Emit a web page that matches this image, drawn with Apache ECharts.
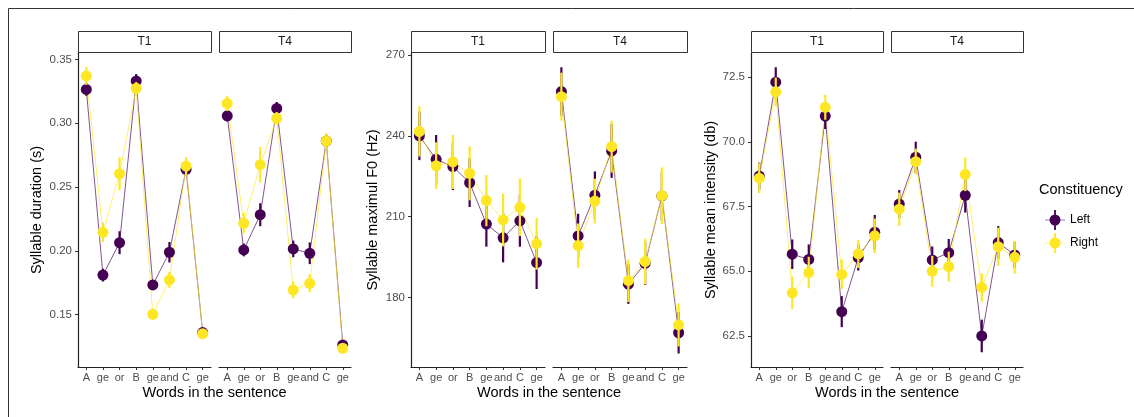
<!DOCTYPE html>
<html>
<head>
<meta charset="utf-8">
<script src="https://cdn.jsdelivr.net/npm/echarts@6/dist/echarts.min.js"></script>
<style>
html,body{margin:0;padding:0;background:#fff}
#main{width:1134px;height:417px}
</style>
</head>
<body>
<div id="main"></div>
<script>
const words = ['A', 'ge', 'or', 'B', 'ge', 'and', 'C', 'ge'];
const facets = ['T1', 'T4'];
const groups = ['Left', 'Right'];

// syllable duration (s)
const durLeftT1 = [0.3265, 0.181, 0.2064, 0.333, 0.1733, 0.1989, 0.2639, 0.136];
const durLeftT1Err = [0.005, 0.005, 0.009, 0.0055, 0.004, 0.008, 0.004, 0.003];
const durRightT1 = [0.337, 0.2145, 0.2604, 0.3273, 0.1503, 0.1772, 0.2664, 0.1351];
const durRightT1Err = [0.007, 0.0076, 0.013, 0.005, 0.0045, 0.0065, 0.007, 0.003];
const durLeftT4 = [0.3058, 0.2007, 0.2283, 0.3116, 0.2015, 0.1981, 0.286, 0.1263];
const durLeftT4Err = [0.0045, 0.005, 0.009, 0.005, 0.0065, 0.0085, 0.005, 0.003];
const durRightT4 = [0.3155, 0.2216, 0.2675, 0.3038, 0.1693, 0.1746, 0.286, 0.1237];
const durRightT4Err = [0.006, 0.008, 0.014, 0.005, 0.0065, 0.007, 0.006, 0.003];
const durTicks = [0.15, 0.20, 0.25, 0.30, 0.35];

// syllable maximum F0 (Hz)
const f0LeftT1 = [240.0, 231.3, 228.6, 222.6, 207.3, 202.2, 208.5, 193.0];
const f0LeftT1Err = [9, 9, 8.7, 9, 8.4, 9.1, 9.6, 9.8];
const f0RightT1 = [241.6, 228.9, 230.3, 226.1, 216.0, 208.8, 213.5, 200.0];
const f0RightT1Err = [9.3, 8.7, 10, 10, 9.5, 9.8, 10.7, 9.6];
const f0LeftT4 = [256.4, 202.9, 218.0, 234.4, 185.0, 192.7, 217.7, 167.0];
const f0LeftT4Err = [9, 8.2, 8.8, 10, 7.3, 8, 9, 7.7];
const f0RightT4 = [254.5, 199.3, 215.8, 236.0, 186.3, 193.4, 217.8, 169.9];
const f0RightT4Err = [8.9, 8.2, 8.3, 9.6, 7.9, 8.5, 10.5, 8];
const f0Ticks = [180, 210, 240, 270];

// syllable mean intensity (db)
const intLeftT1 = [68.68, 72.31, 65.66, 65.46, 71.0, 63.44, 65.53, 66.51];
const intLeftT1Err = [0.52, 0.58, 0.57, 0.58, 0.5, 0.6, 0.5, 0.67];
const intRightT1 = [68.6, 71.94, 64.17, 64.95, 71.34, 64.88, 65.67, 66.37];
const intRightT1Err = [0.58, 0.55, 0.63, 0.61, 0.48, 0.57, 0.54, 0.67];
const intLeftT4 = [67.6, 69.41, 65.44, 65.72, 67.94, 62.5, 66.11, 65.63];
const intLeftT4Err = [0.54, 0.6, 0.52, 0.53, 0.67, 0.63, 0.64, 0.5];
const intRightT4 = [67.4, 69.24, 65.0, 65.18, 68.75, 64.38, 65.95, 65.54];
const intRightT4Err = [0.64, 0.5, 0.6, 0.58, 0.65, 0.55, 0.74, 0.63];
const intTicks = [62.5, 65.0, 67.5, 70.0, 72.5];

const colors = { Left: '#440154', Right: '#FDE725' };
const font = 'Liberation Sans, Arial, sans-serif';

const panels = [
  { title: 'Syllable duration (s)', ticks: durTicks, min: 0.109, max: 0.355, digits: 2,
    lefts: [78, 219], widths: [133, 132], gap: 34,
    data: { Left: [[durLeftT1, durLeftT1Err], [durLeftT4, durLeftT4Err]],
            Right: [[durRightT1, durRightT1Err], [durRightT4, durRightT4Err]] } },
  { title: 'Syllable maximul F0 (Hz)', ticks: f0Ticks, min: 154.3, max: 270.7, digits: 0,
    lefts: [411, 553], widths: [134, 134], gap: 31,
    data: { Left: [[f0LeftT1, f0LeftT1Err], [f0LeftT4, f0LeftT4Err]],
            Right: [[f0RightT1, f0RightT1Err], [f0RightT4, f0RightT4Err]] } },
  { title: 'Syllable mean intensity (db)', ticks: intTicks, min: 61.3, max: 73.44, digits: 1,
    lefts: [751, 891], widths: [132, 132], gap: 33,
    data: { Left: [[intLeftT1, intLeftT1Err], [intLeftT4, intLeftT4Err]],
            Right: [[intRightT1, intRightT1Err], [intRightT4, intRightT4Err]] } }
];

const TOP = 53, BOTTOM = 50; // plot area from y=53 to y=367

function errRender(params, api) {
  const x = api.value(0);
  const a = api.coord([x, api.value(1)]);
  const b = api.coord([x, api.value(2)]);
  return {
    type: 'line',
    shape: { x1: a[0], y1: a[1], x2: b[0], y2: b[1] },
    style: { stroke: api.visual('color'), lineWidth: 2.2 }
  };
}

const grid = [], xAxis = [], yAxis = [], series = [], graphic = [];

// outer frame
graphic.push({ type: 'rect', shape: { x: 8.5, y: 8.5, width: 1300, height: 600 },
  style: { fill: 'none', stroke: '#333', lineWidth: 1 }, silent: true });

panels.forEach(function (p) {
  facets.forEach(function (f, fi) {
    const gi = grid.length;
    grid.push({ left: p.lefts[fi], top: TOP, width: p.widths[fi], bottom: BOTTOM });
    xAxis.push({
      type: 'category', gridIndex: gi, data: words, boundaryGap: true,
      axisLine: { show: true, lineStyle: { color: '#222', width: 1.2 } },
      axisTick: { show: true, alignWithLabel: true, length: 3, lineStyle: { color: '#333' } },
      axisLabel: { interval: 0, color: '#4d4d4d', fontSize: 11, margin: 5, fontFamily: font },
      splitLine: { show: false }
    });
    const showY = fi === 0;
    yAxis.push({
      type: 'value', gridIndex: gi, min: p.min, max: p.max,
      name: showY ? p.title : '', nameLocation: 'middle', nameGap: p.gap,
      nameTextStyle: { color: '#000', fontSize: 14.5, fontFamily: font },
      axisLine: { show: showY, lineStyle: { color: '#222', width: 1.2 } },
      axisTick: { show: showY, length: 3, customValues: p.ticks, lineStyle: { color: '#333' } },
      axisLabel: { show: showY, customValues: p.ticks, color: '#4d4d4d', fontSize: 11.5, margin: 6,
        fontFamily: font, formatter: function (v) { return Number(v).toFixed(p.digits); } },
      splitLine: { show: false }
    });

    // connecting lines first
    groups.forEach(function (g) {
      series.push({
        type: 'line', name: g, xAxisIndex: gi, yAxisIndex: gi,
        data: p.data[g][fi][0], showSymbol: false, symbol: 'none',
        lineStyle: { color: colors[g], width: 0.9, opacity: 0.75 },
        itemStyle: { color: colors[g] }, z: 2, animation: false
      });
    });
    // error bars + points, Left below Right
    groups.forEach(function (g, k) {
      const mean = p.data[g][fi][0], err = p.data[g][fi][1];
      series.push({
        type: 'custom', name: g, xAxisIndex: gi, yAxisIndex: gi,
        renderItem: errRender, clip: false,
        itemStyle: { color: colors[g] },
        data: mean.map(function (m, i) { return [i, m - err[i], m + err[i]]; }),
        z: 3 + k * 2, animation: false
      });
      series.push({
        type: 'scatter', name: g, xAxisIndex: gi, yAxisIndex: gi,
        data: mean, symbol: 'circle', symbolSize: 11,
        itemStyle: { color: colors[g], opacity: 1 },
        z: 4 + k * 2, animation: false
      });
    });

    // facet strip
    graphic.push({ type: 'rect', shape: { x: p.lefts[fi] + 0.5, y: 31.5, width: p.widths[fi], height: 21 },
      style: { fill: '#fff', stroke: '#333', lineWidth: 1 }, silent: true });
    graphic.push({ type: 'text', x: p.lefts[fi] + p.widths[fi] / 2, y: 42,
      style: { text: f, fill: '#1a1a1a', fontSize: 12, fontFamily: font, align: 'center', verticalAlign: 'middle' },
      silent: true });
  });
  // x axis title across both facets
  const l = p.lefts[0], r = p.lefts[1] + p.widths[1];
  graphic.push({ type: 'text', x: (l + r) / 2, y: 393,
    style: { text: 'Words in the sentence', fill: '#000', fontSize: 14.5, fontFamily: font,
      align: 'center', verticalAlign: 'middle' }, silent: true });
});

// legend title
graphic.push({ type: 'text', x: 1039, y: 190,
  style: { text: 'Constituency', fill: '#000', fontSize: 14.5, fontFamily: font, verticalAlign: 'middle' },
  silent: true });

const keyIcon = 'path://M0,9.7 L20,9.7 L20,10.3 L0,10.3 Z M9.1,0 L10.9,0 L10.9,20 L9.1,20 Z M15.5,10 A5.5,5.5 0 1 1 4.5,10 A5.5,5.5 0 1 1 15.5,10 Z';

const option = {
  animation: false,
  backgroundColor: '#fff',
  textStyle: { fontFamily: font },
  grid: grid,
  xAxis: xAxis,
  yAxis: yAxis,
  legend: {
    left: 1040, top: 205, orient: 'vertical',
    itemWidth: 20, itemHeight: 20, itemGap: 3,
    data: groups.map(function (g) { return { name: g, icon: keyIcon, itemStyle: { color: colors[g] } }; }),
    textStyle: { color: '#000', fontSize: 12, fontFamily: font },
    selectedMode: false
  },
  graphic: graphic,
  series: series
};

const chart = echarts.init(document.getElementById('main'));
chart.setOption(option);
window.addEventListener('resize', chart.resize);
</script>
</body>
</html>
